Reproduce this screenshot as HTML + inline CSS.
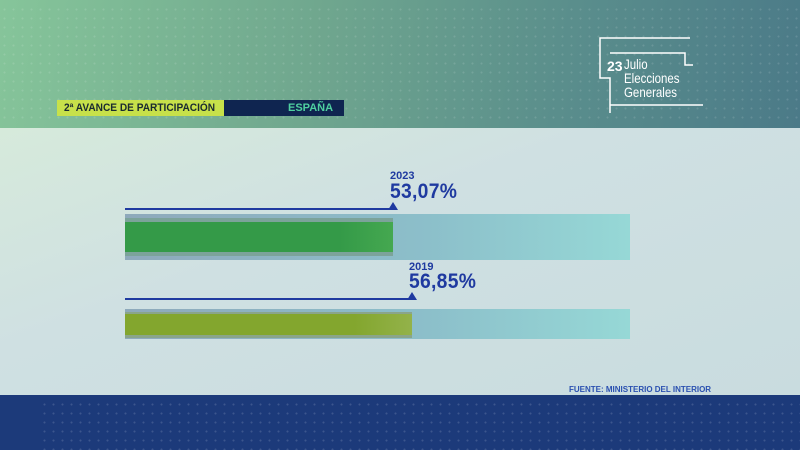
<!DOCTYPE html>
<html><head><meta charset="utf-8"><style>
*{margin:0;padding:0;box-sizing:border-box}
body{width:800px;height:450px;overflow:hidden;position:relative;font-family:"Liberation Sans",sans-serif;background:#d0e1e1}
.hdr{position:absolute;left:0;top:0;width:800px;height:128px;background:linear-gradient(100deg,#86c59a 0%,#6fa68e 40%,#5a8e8c 70%,#4b7a88 100%)}
.mid{position:absolute;left:0;top:128px;width:800px;height:267px;background:linear-gradient(160deg,#d6eadb,#cfe0e2 40%,#c9dcdf)}
.bot{position:absolute;left:0;top:395px;width:800px;height:55px;background:#1c3a7a}
.dots{position:absolute;background-image:radial-gradient(circle,rgba(255,255,255,.35) 0.8px,transparent 1.2px);background-size:9px 9px}
.t{position:absolute;white-space:nowrap}
.p{font-size:21px;font-weight:700;color:#1f3aa0;transform:scaleX(.92);transform-origin:left;letter-spacing:.3px}
</style></head><body>
<div class="hdr"></div>
<div class="dots" style="left:0;top:5px;width:800px;height:120px;opacity:.35"></div>
<div class="mid"></div>
<div class="bot"></div>
<div class="dots" style="left:40px;top:400px;width:760px;height:50px;opacity:.4"></div>

<div style="position:absolute;left:57px;top:100px;width:167px;height:16px;background:#c7e14a"></div>
<div style="position:absolute;left:224px;top:100px;width:120px;height:16px;background:#0f2550"></div>
<div class="t" style="left:64px;top:102px;font-size:11px;font-weight:bold;color:#1a2a30;transform:scaleX(.92);transform-origin:left">2ª AVANCE DE PARTICIPACIÓN</div>
<div class="t" style="left:288px;top:102px;font-size:11px;font-weight:bold;color:#4fd0a0">ESPAÑA</div>

<svg style="position:absolute;left:595px;top:35px" width="115" height="80">
<g fill="none" stroke="#fff" stroke-width="1.5">
<polyline points="95,3 5,3 5,43 15,43 15,78"/>
<polyline points="15,18 90,18 90,30 98,30"/>
<polyline points="15,70 108,70"/>
</g></svg>
<div class="t" style="left:607px;top:58px;font-size:14px;color:#fff;font-weight:bold">23</div>
<div class="t" style="left:624px;top:57px;font-size:14px;line-height:14px;color:#fff;transform:scaleX(.82);transform-origin:left">Julio<br>Elecciones<br>Generales</div>

<!-- bar 1 -->
<div style="position:absolute;left:125px;top:214px;width:505px;height:46px;background:linear-gradient(90deg,#8ea9bb,#8cbfca 60%,#96d8d6)"></div>
<div style="position:absolute;left:125px;top:218px;width:268px;height:38px;background:#7ca39a"></div>
<div style="position:absolute;left:125px;top:222px;width:268px;height:30px;background:linear-gradient(90deg,#349a48 80%,#45a850)"></div>
<div style="position:absolute;left:125px;top:208px;width:268px;height:2px;background:#1f3aa0"></div>
<svg style="position:absolute;left:388px;top:202px" width="10" height="8"><polygon points="5,0 10,8 0,8" fill="#1f3aa0"/></svg>
<div class="t" style="left:390px;top:170px;font-size:11px;font-weight:bold;color:#1f3aa0">2023</div>
<div class="t p" style="left:390px;top:180px">53,07%</div>

<!-- bar 2 -->
<div style="position:absolute;left:125px;top:309px;width:505px;height:30px;background:linear-gradient(90deg,#8ea9bb,#8cbfca 60%,#96d8d6)"></div>
<div style="position:absolute;left:125px;top:312px;width:287px;height:26px;background:#8aa58a"></div>
<div style="position:absolute;left:125px;top:314px;width:287px;height:21px;background:linear-gradient(90deg,#83a62e 80%,#93b24a)"></div>
<div style="position:absolute;left:125px;top:298px;width:287px;height:2px;background:#1f3aa0"></div>
<svg style="position:absolute;left:407px;top:292px" width="10" height="8"><polygon points="5,0 10,8 0,8" fill="#1f3aa0"/></svg>
<div class="t" style="left:409px;top:261px;font-size:11px;font-weight:bold;color:#1f3aa0">2019</div>
<div class="t p" style="left:409px;top:270px">56,85%</div>

<div class="t" style="left:569px;top:385px;font-size:8px;font-weight:bold;color:#2a50b0">FUENTE: MINISTERIO DEL INTERIOR</div>
</body></html>
